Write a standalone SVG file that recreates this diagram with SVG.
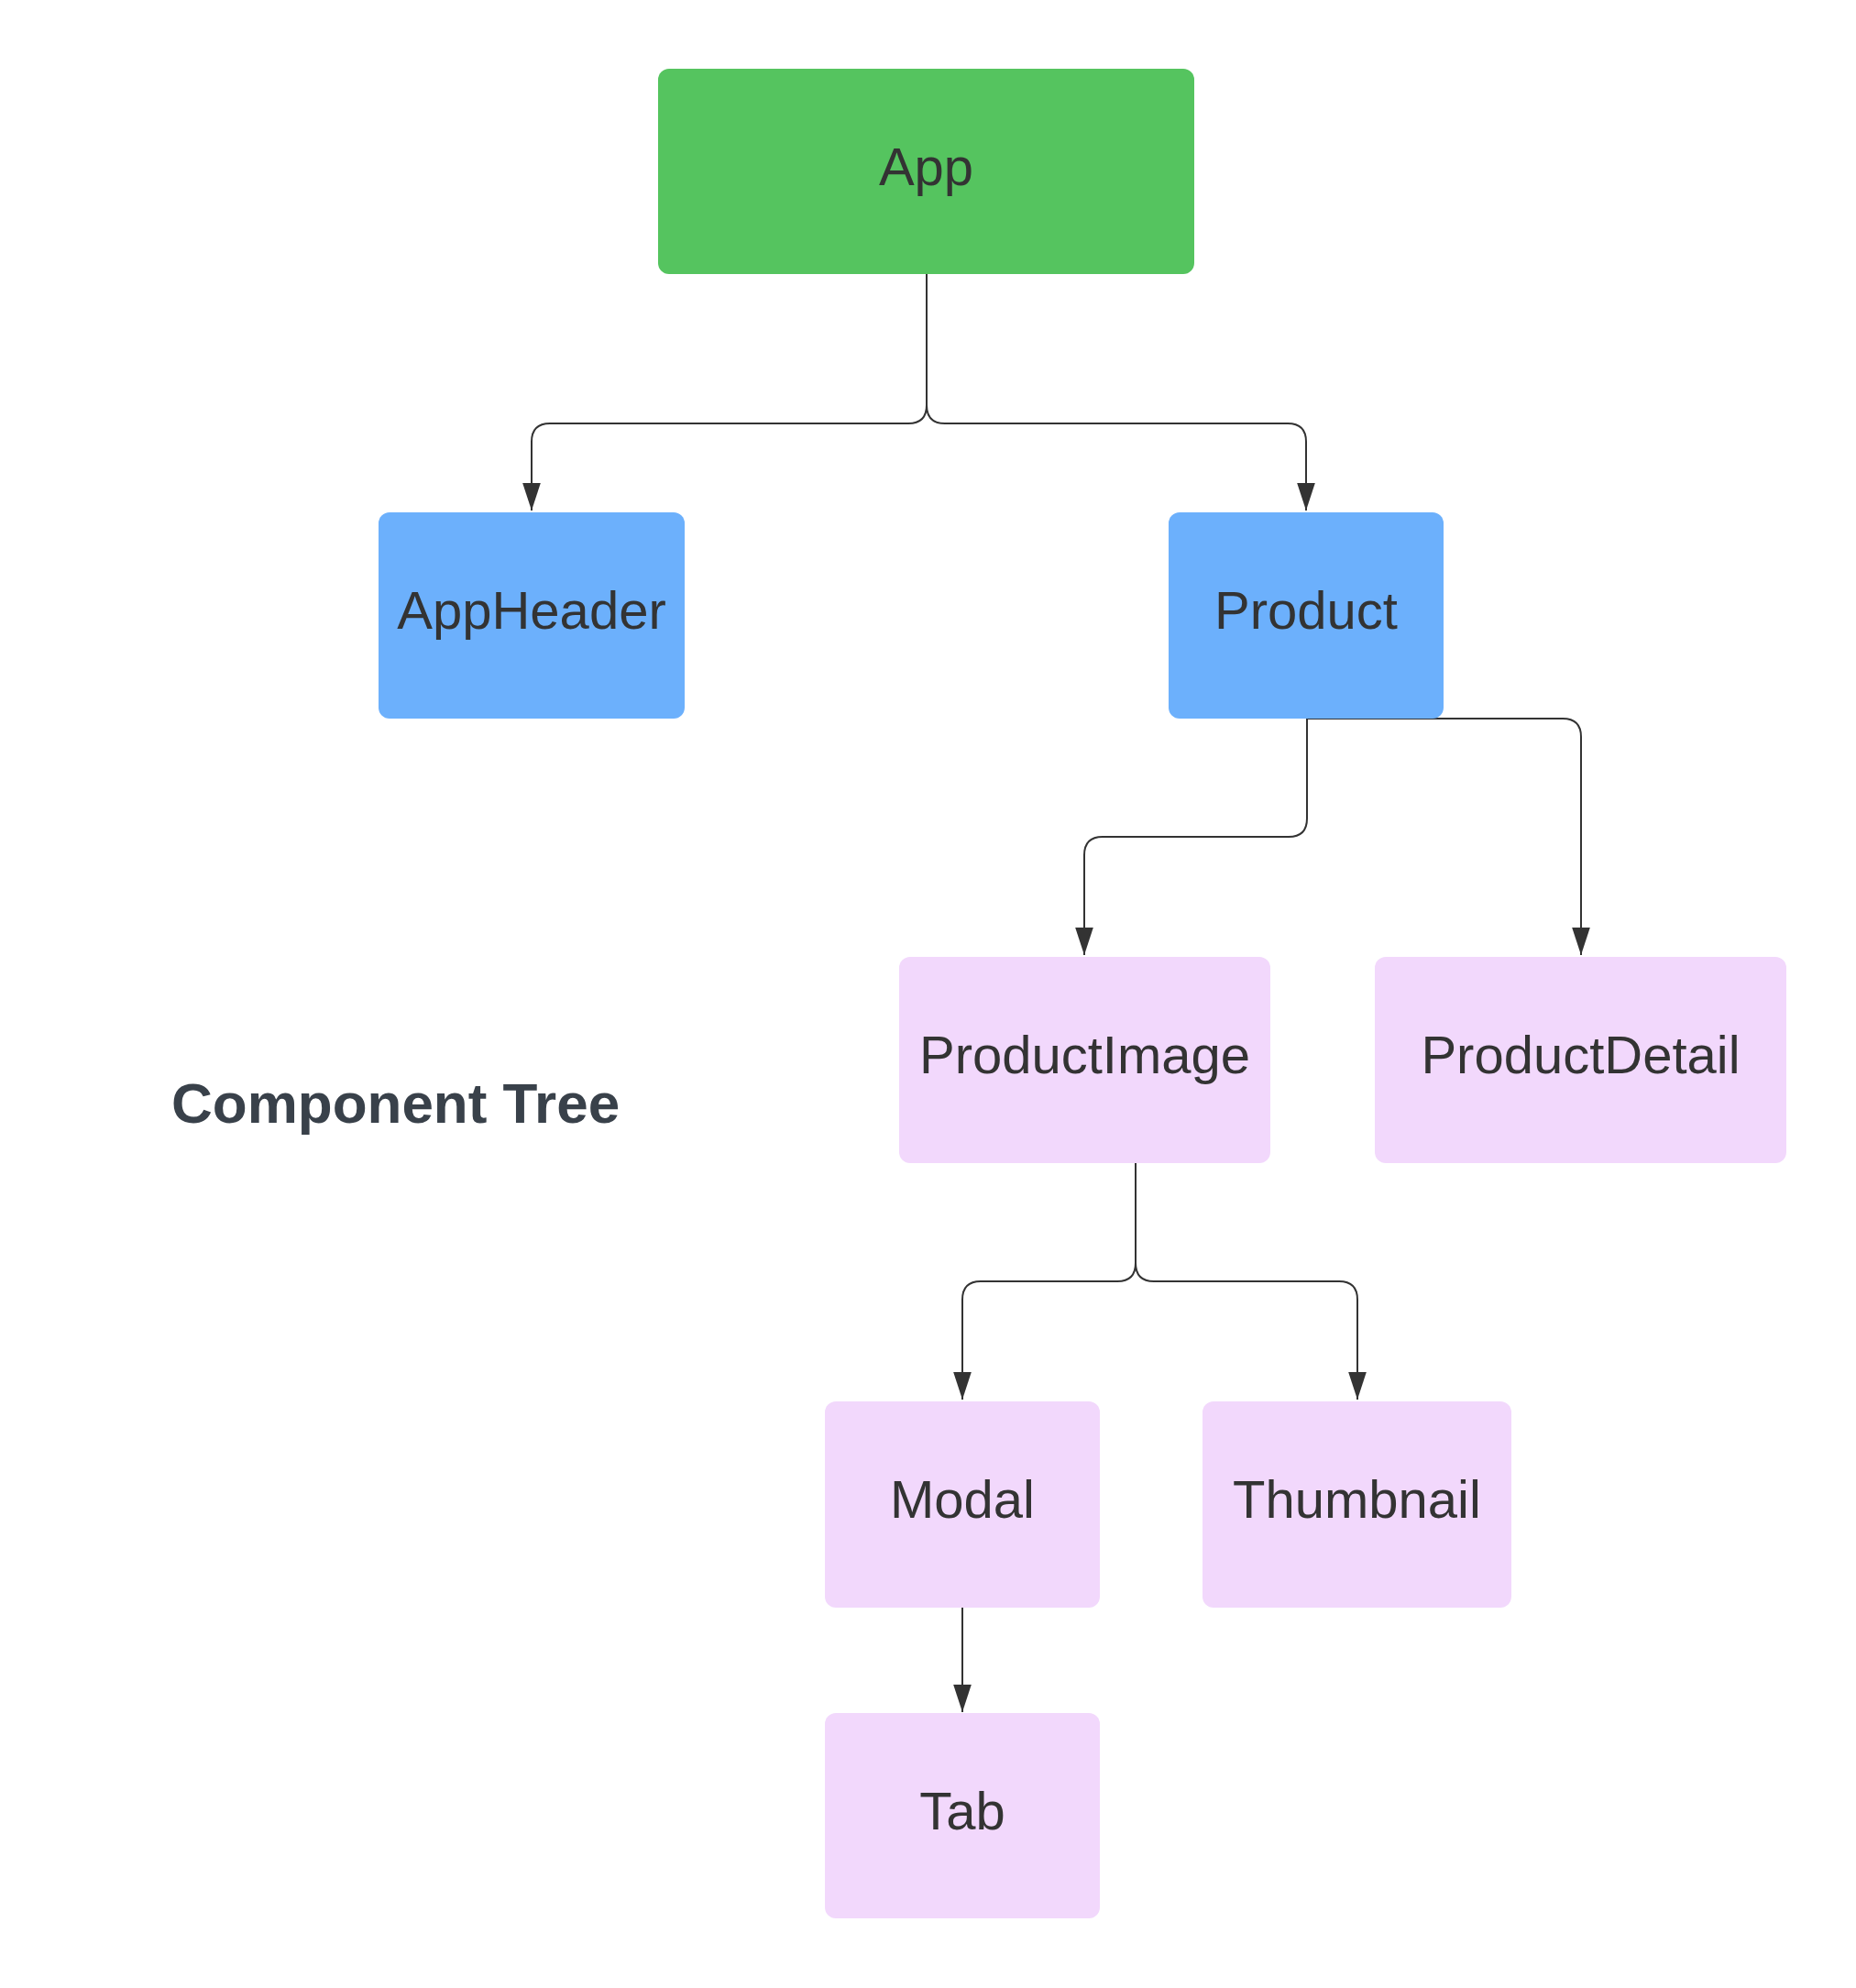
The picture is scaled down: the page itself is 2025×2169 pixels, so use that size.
<svg xmlns="http://www.w3.org/2000/svg" width="2025" height="2169" viewBox="0 0 2025 2169">
<style>
.lbl{font-family:"Liberation Sans",Arial,sans-serif;font-size:58px;fill:#333333;text-anchor:middle}
.green{fill:#55c45f}
.blue{fill:#6cb0fc}
.pink{fill:#f2d8fc}
.conn{fill:none;stroke:#333333;stroke-width:2}
.title{font-family:"Liberation Sans",Arial,sans-serif;font-size:62px;font-weight:bold;fill:#39414a}
</style>
<defs>
<marker id="arr" markerUnits="userSpaceOnUse" markerWidth="30" markerHeight="20" viewBox="0 0 29 19" refX="29" refY="9.5" orient="auto">
<path d="M0,0 L29,9.5 L0,19 z" fill="#333333"/>
</marker>
</defs>
<rect width="2025" height="2169" fill="#ffffff"/>
<g id="connectors">
<path class="conn" d="M1011,299 V442 Q1011,462 991,462 H600 Q580,462 580,482 V557" marker-end="url(#arr)"/>
<path class="conn" d="M1011,299 V442 Q1011,462 1031,462 H1405 Q1425,462 1425,482 V557" marker-end="url(#arr)"/>
<path class="conn" d="M1426,784 V893 Q1426,913 1406,913 H1203 Q1183,913 1183,933 V1042" marker-end="url(#arr)"/>
<path class="conn" d="M1426,784 H1705 Q1725,784 1725,804 V1042" marker-end="url(#arr)"/>
<path class="conn" d="M1239,1268 V1378 Q1239,1398 1219,1398 H1070 Q1050,1398 1050,1418 V1527" marker-end="url(#arr)"/>
<path class="conn" d="M1239,1268 V1378 Q1239,1398 1259,1398 H1461 Q1481,1398 1481,1418 V1527" marker-end="url(#arr)"/>
<path class="conn" d="M1050,1754 V1868" marker-end="url(#arr)"/>
</g>
<g id="node-app">
<rect class="green" x="718" y="75" width="585" height="224" rx="12"/>
<text class="lbl" x="1010.5" y="202">App</text>
</g>
<g id="node-appheader">
<rect class="blue" x="413" y="559" width="334" height="225" rx="12"/>
<text class="lbl" x="580" y="686">AppHeader</text>
</g>
<g id="node-product">
<rect class="blue" x="1275" y="559" width="300" height="225" rx="12"/>
<text class="lbl" x="1425" y="686">Product</text>
</g>
<g id="node-productimage">
<rect class="pink" x="981" y="1044" width="405" height="225" rx="12"/>
<text class="lbl" x="1183.5" y="1171">ProductImage</text>
</g>
<g id="node-productdetail">
<rect class="pink" x="1500" y="1044" width="449" height="225" rx="12"/>
<text class="lbl" x="1724.5" y="1171">ProductDetail</text>
</g>
<g id="node-modal">
<rect class="pink" x="900" y="1529" width="300" height="225" rx="12"/>
<text class="lbl" x="1050" y="1656">Modal</text>
</g>
<g id="node-thumbnail">
<rect class="pink" x="1312" y="1529" width="337" height="225" rx="12"/>
<text class="lbl" x="1480.5" y="1656">Thumbnail</text>
</g>
<g id="node-tab">
<rect class="pink" x="900" y="1869" width="300" height="224" rx="12"/>
<text class="lbl" x="1050" y="1996">Tab</text>
</g>
<g id="title">
<text class="title" x="187" y="1225">Component Tree</text>
</g>
</svg>
